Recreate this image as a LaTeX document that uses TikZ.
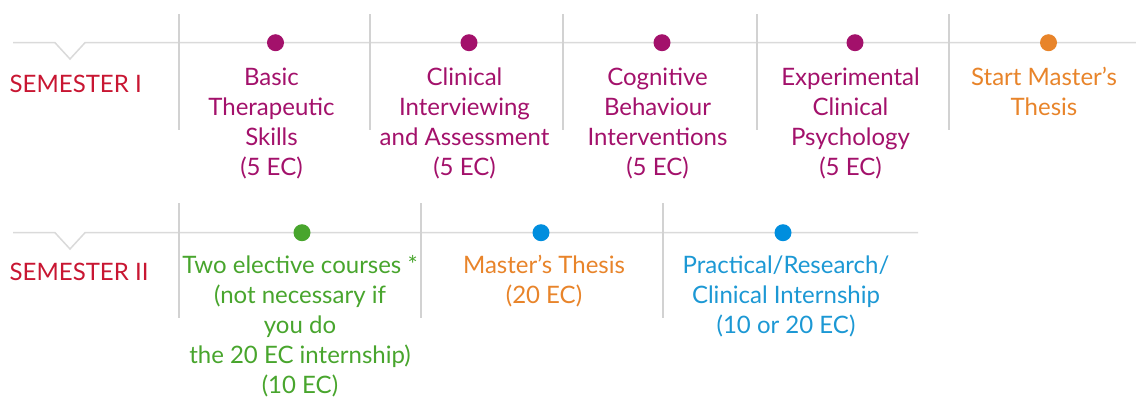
\documentclass[tikz,border=0pt]{standalone}
\usepackage{fontspec}
\setmainfont{Lato}
\definecolor{lineg}{RGB}{218,218,218}
\definecolor{sepg}{RGB}{210,210,210}
\definecolor{magc}{RGB}{163,17,107}
\definecolor{semred}{RGB}{200,22,50}
\definecolor{orc}{RGB}{232,132,42}
\definecolor{grc}{RGB}{72,165,45}
\definecolor{bldot}{RGB}{0,142,222}
\definecolor{bltext}{RGB}{28,152,212}
\newcommand{\mylines}[1]{\begin{tabular}[t]{@{}c@{}}#1\end{tabular}}
\tikzset{
  tl/.style={draw=lineg, line width=1.5pt},
  sep/.style={draw=sepg, line width=1.2pt},
  dot/.style={circle, fill=#1, inner sep=0pt, minimum size=17pt},
  lbl/.style={anchor=base, inner sep=0pt, text=#1, font=\fontsize{24}{30}\selectfont},
  sem/.style={anchor=base west, inner sep=0pt, text=semred, font=\fontsize{24}{30}\selectfont},
}
\begin{document}
\begin{tikzpicture}[x=1pt,y=-1pt]
\useasboundingbox (0,0) rectangle (1136,400);
% ---- Semester I ----
\coordinate (s1a) at (13,42.7);
\coordinate (s1b) at (55,42.7);
\coordinate (s1v) at (70,59);
\coordinate (s1c) at (85,42.7);
\coordinate (s1e) at (1136,42.7);
\draw[tl, line join=miter] (s1a) -- (s1b) -- (s1v) -- (s1c) -- (s1e);
\foreach \x [count=\i] in {179,370,563,757,949}
  \draw[sep] (\x,14) coordinate (t\i) -- (\x,130) coordinate (b\i);
\node[dot=magc] (d1) at (275.5,42.7) {};
\node[dot=magc] (d2) at (469,42.7) {};
\node[dot=magc] (d3) at (662,42.7) {};
\node[dot=magc] (d4) at (855,42.7) {};
\node[dot=orc]  (d5) at (1048.5,42.7) {};
\node[sem] (sem1) at (9.5,92) {SEMESTER I};
\node[lbl=magc] (c1) at (271.5,85) {\mylines{Basic\\Therapeutic\\Skills\\(5 EC)}};
\node[lbl=magc] (c2) at (464.5,85) {\mylines{Clinical\\Interviewing\\and Assessment\\(5 EC)}};
\node[lbl=magc] (c3) at (657.5,85) {\mylines{Cognitive\\Behaviour\\Interventions\\(5 EC)}};
\node[lbl=magc] (c4) at (850.5,85) {\mylines{Experimental\\Clinical\\Psychology\\(5 EC)}};
\node[lbl=orc]  (c5) at (1044,85) {\mylines{Start Master’s\\Thesis}};
% ---- Semester II ----
\coordinate (s2a) at (13,232.7);
\coordinate (s2b) at (55,232.7);
\coordinate (s2v) at (70,249);
\coordinate (s2c) at (85,232.7);
\coordinate (s2e) at (918,232.7);
\draw[tl, line join=miter] (s2a) -- (s2b) -- (s2v) -- (s2c) -- (s2e);
\foreach \x [count=\i] in {179,421,663}
  \draw[sep] (\x,203) coordinate (u\i) -- (\x,318) coordinate (v\i);
\node[dot=grc]   (e1) at (302,232.7) {};
\node[dot=bldot] (e2) at (541,232.7) {};
\node[dot=bldot] (e3) at (783,232.7) {};
\node[sem] (sem2) at (9.5,280) {SEMESTER II};
\node[lbl=grc] (f1) at (300,273) {\mylines{Two elective courses *\\(not necessary if\\you do\\the 20 EC internship)\\(10 EC)}};
\node[lbl=orc] (f2) at (544,273) {\mylines{Master’s Thesis\\(20 EC)}};
\node[lbl=bltext] (f3) at (786,273) {\mylines{Practical/Research/\\Clinical Internship\\(10 or 20 EC)}};
\end{tikzpicture}
\end{document}
